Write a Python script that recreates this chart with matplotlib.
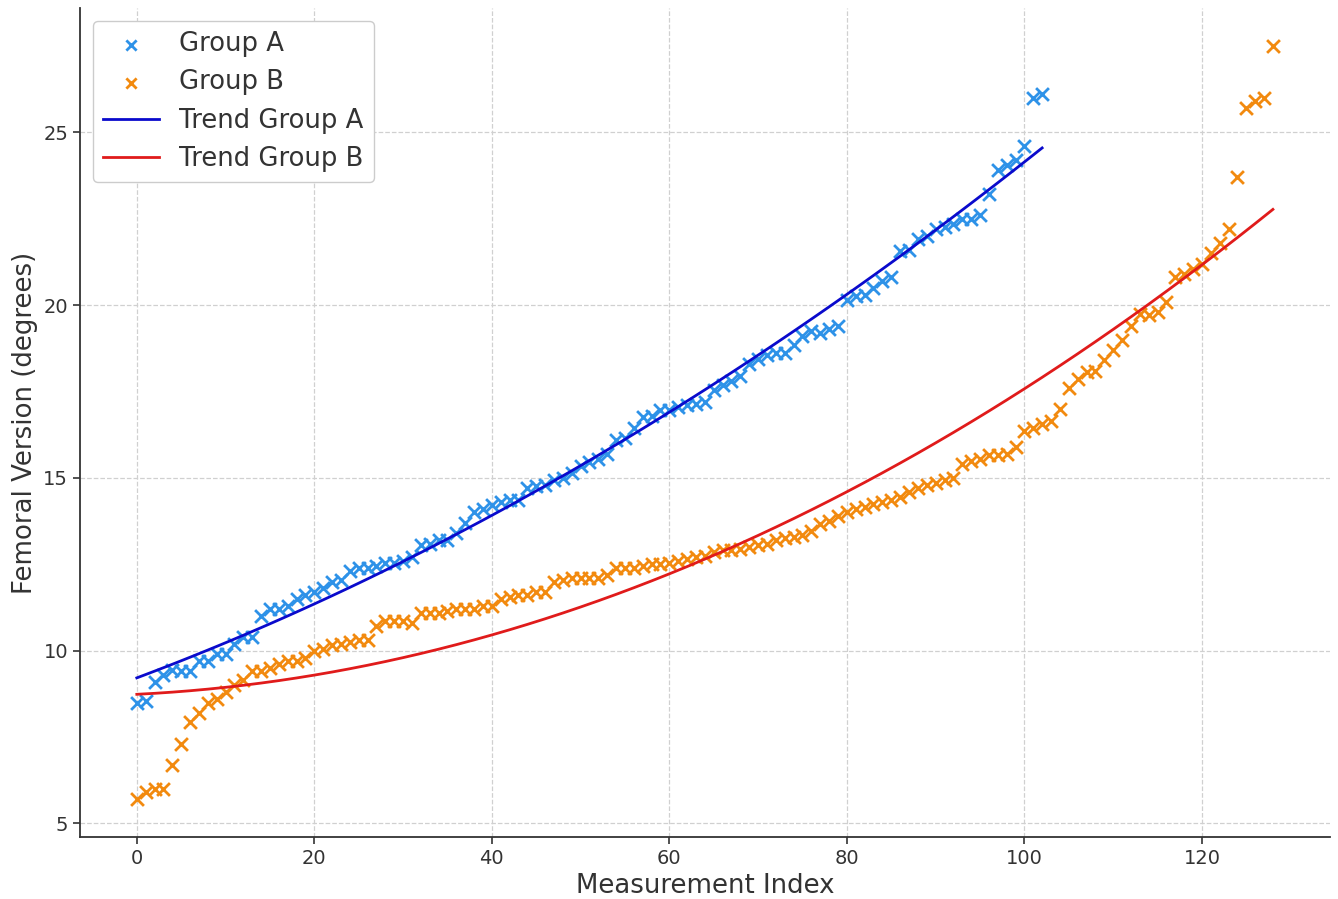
import numpy as np
import matplotlib
matplotlib.use("Agg")
import matplotlib.pyplot as plt

# Group A (sorted femoral version measurements, degrees)
group_a = [
    8.5, 8.55, 9.1, 9.3, 9.45, 9.4, 9.4, 9.7, 9.7, 9.9,
    9.9, 10.2, 10.4, 10.4, 11.0, 11.2, 11.2, 11.3, 11.5, 11.6,
    11.7, 11.8, 12.0, 12.05, 12.3, 12.4, 12.4, 12.45, 12.55, 12.55,
    12.6, 12.7, 13.05, 13.1, 13.2, 13.2, 13.4, 13.7, 14.0, 14.1,
    14.2, 14.3, 14.35, 14.35, 14.7, 14.75, 14.8, 14.95, 15.0, 15.15,
    15.35, 15.45, 15.55, 15.7, 16.1, 16.15, 16.45, 16.75, 16.8, 16.95,
    16.95, 17.05, 17.1, 17.15, 17.2, 17.55, 17.7, 17.8, 17.95, 18.3,
    18.45, 18.55, 18.6, 18.6, 18.85, 19.1, 19.25, 19.2, 19.3, 19.4,
    20.15, 20.25, 20.3, 20.5, 20.7, 20.8, 21.55, 21.6, 21.9, 22.0,
    22.2, 22.25, 22.35, 22.5, 22.5, 22.6, 23.2, 23.9, 24.05, 24.2,
    24.6, 26.0, 26.1,
]

# Group B (sorted femoral version measurements, degrees)
group_b = [
    5.7, 5.9, 6.0, 6.0, 6.7, 7.3, 7.95, 8.2, 8.5, 8.6,
    8.8, 9.0, 9.15, 9.4, 9.4, 9.5, 9.6, 9.7, 9.7, 9.8,
    10.0, 10.05, 10.15, 10.2, 10.25, 10.3, 10.3, 10.7, 10.85, 10.85,
    10.85, 10.8, 11.1, 11.1, 11.1, 11.15, 11.2, 11.2, 11.2, 11.3,
    11.3, 11.5, 11.55, 11.6, 11.6, 11.7, 11.7, 12.0, 12.05, 12.1,
    12.1, 12.1, 12.1, 12.2, 12.4, 12.4, 12.4, 12.45, 12.5, 12.5,
    12.55, 12.6, 12.65, 12.7, 12.75, 12.85, 12.9, 12.9, 12.95, 13.0,
    13.05, 13.1, 13.2, 13.25, 13.3, 13.35, 13.45, 13.65, 13.75, 13.9,
    14.0, 14.1, 14.15, 14.25, 14.3, 14.35, 14.45, 14.6, 14.7, 14.8,
    14.85, 14.95, 15.0, 15.4, 15.5, 15.55, 15.65, 15.65, 15.7, 15.9,
    16.35, 16.45, 16.55, 16.65, 17.0, 17.6, 17.85, 18.05, 18.1, 18.4,
    18.7, 19.0, 19.4, 19.75, 19.7, 19.8, 20.1, 20.8, 20.9, 21.05,
    21.2, 21.5, 21.8, 22.2, 23.7, 25.7, 25.9, 26.0, 27.5,
]

labels = ["Group A", "Group B", "Trend Group A", "Trend Group B"]

ya = np.array(group_a)
yb = np.array(group_b)
xa = np.arange(len(ya))
xb = np.arange(len(yb))

fit_a = np.polyval(np.polyfit(xa, ya, 2), xa)
fit_b = np.polyval(np.polyfit(xb, yb, 2), xb)

text_color = "#333333"
plt.rcParams["font.family"] = ["DejaVu Sans"]

fig = plt.figure(figsize=(13.38, 8.99), dpi=100)
ax = fig.add_axes([0.0598, 0.069, 0.934, 0.922])

ax.scatter(xa, ya, marker="x", s=85, linewidths=2.0, color="#2e92e8", label=labels[0], zorder=3)
ax.scatter(xb, yb, marker="x", s=85, linewidths=2.0, color="#f28a0f", label=labels[1], zorder=3)
ax.plot(xa, fit_a, color="#0a0acc", lw=2.0, label=labels[2], zorder=4)
ax.plot(xb, fit_b, color="#e01b1b", lw=2.0, label=labels[3], zorder=4)

ax.set_xlabel("Measurement Index", fontsize=18.7, color=text_color)
ax.set_ylabel("Femoral Version (degrees)", fontsize=18.7, color=text_color)
ax.set_yticks([5, 10, 15, 20, 25])
ax.tick_params(labelsize=14, colors=text_color, length=5, width=1.2)
ax.grid(True, linestyle="--", color="#d0d0d0", linewidth=0.9)
ax.set_axisbelow(True)
for s in ["top", "right"]:
    ax.spines[s].set_visible(False)
for s in ["left", "bottom"]:
    ax.spines[s].set_color("#333333")
    ax.spines[s].set_linewidth(1.3)

leg = ax.legend(loc="upper left", fontsize=18.6, labelspacing=0.47, handlelength=2.15,
                handletextpad=0.8, borderpad=0.4, framealpha=1.0, markerscale=0.8,
                bbox_to_anchor=(0.0, 1.0))
leg.get_frame().set_edgecolor("#cccccc")
for t in leg.get_texts():
    t.set_color(text_color)

fig.savefig("out.png", dpi=100)
